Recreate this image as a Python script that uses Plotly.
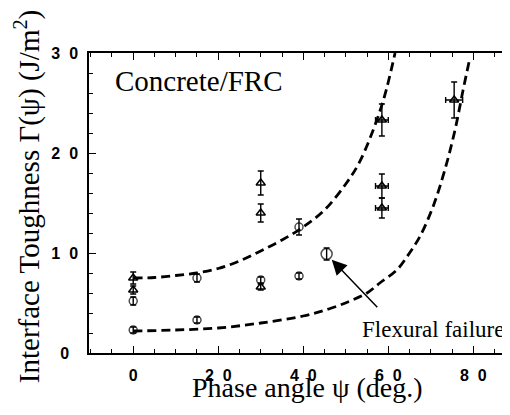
import plotly.graph_objects as go

# ---- data ----
circ_x = [0, 0, 15, 15, 30, 39, 39, 45.5]
circ_y = [5.2, 2.3, 7.5, 3.3, 7.3, 12.6, 7.7, 9.9]
circ_err = [0.4, 0.3, 0.4, 0.3, 0.3, 0.8, 0.3, 0.6]
circ_size = [8, 8, 8, 8, 8, 8, 8, 11]

tri_x = [0, 0, 30, 30, 30]
tri_y = [7.5, 6.3, 17.0, 14.0, 6.6]
tri_err = [0.6, 0.4, 1.2, 0.9, 0.3]

tri2_x = [58.5, 58.5, 58.5, 75.5]
tri2_y = [23.3, 16.7, 14.5, 25.3]
tri2_err = [1.6, 1.2, 1.0, 1.8]
tri2_xerr = [1.5, 1.5, 1.5, 2.0]

upper_x = [0, 5, 10, 15, 20, 25, 30, 35, 40, 45, 50, 53, 56, 59, 61.6]
upper_y = [7.5, 7.55, 7.75, 8.0, 8.45, 9.2, 10.2, 11.3, 12.6, 14.3, 16.9, 18.9, 21.8, 25.5, 30.0]

lower_x = [0, 10, 20, 30, 40, 46, 51, 55, 58, 62, 65, 67.5, 70.5, 73.3, 75.7, 77.6, 79.2]
lower_y = [2.2, 2.3, 2.5, 3.0, 3.7, 4.4, 5.2, 6.0, 7.0, 8.3, 10.0, 11.7, 14.6, 18.3, 22.3, 26.3, 29.5]

x_tickvals = [0, 20, 40, 60, 80]
x_ticktext = ["0", "2\u00a0\u00a00", "4\u00a0\u00a00", "6\u00a0\u00a00", "8\u00a0\u00a00"]
y_tickvals = [0, 10, 20, 30]
y_ticktext = ["0\u00a0\u00a0", "1\u00a0\u00a00", "2\u00a0\u00a00", "3\u00a0\u00a00"]

SERIF = "Liberation Serif, Times New Roman, serif"
SANS = "Liberation Sans, Arial, sans-serif"

fig = go.Figure()

dash = "9px,5px"
fig.add_trace(go.Scatter(x=upper_x, y=upper_y, mode="lines",
                         line=dict(color="black", width=2.8, dash=dash, shape="spline"),
                         showlegend=False, hoverinfo="skip"))
fig.add_trace(go.Scatter(x=lower_x, y=lower_y, mode="lines",
                         line=dict(color="black", width=2.8, dash=dash, shape="spline"),
                         showlegend=False, hoverinfo="skip"))

eb = dict(type="data", color="black", thickness=1.4, width=3)

fig.add_trace(go.Scatter(x=circ_x, y=circ_y, mode="markers",
                         marker=dict(symbol="circle-open", size=circ_size, color="black",
                                     line=dict(width=1.5, color="black")),
                         error_y=dict(array=circ_err, **eb),
                         showlegend=False))
fig.add_trace(go.Scatter(x=tri_x, y=tri_y, mode="markers",
                         marker=dict(symbol="triangle-up-open", size=8, color="black",
                                     line=dict(width=1.5, color="black")),
                         error_y=dict(array=tri_err, **eb),
                         showlegend=False))
fig.add_trace(go.Scatter(x=tri2_x, y=tri2_y, mode="markers",
                         marker=dict(symbol="triangle-up-open", size=8, color="black",
                                     line=dict(width=1.5, color="black")),
                         error_y=dict(array=tri2_err, **eb),
                         error_x=dict(array=tri2_xerr, **eb),
                         showlegend=False))

axis_common = dict(showline=True, linecolor="black", linewidth=1.5, mirror="ticks",
                   ticks="inside", tickcolor="black", tickwidth=1.3, ticklen=7,
                   showgrid=False, zeroline=False, automargin=False,
                   tickfont=dict(family=SANS, size=16, color="black", weight="bold"))

fig.update_xaxes(range=[-10.4, 88.4], tickmode="array", tickvals=x_tickvals,
                 ticktext=x_ticktext, ticklabelstandoff=7,
                 minor=dict(dtick=5, tick0=0, ticks="inside", ticklen=4,
                            tickcolor="black", tickwidth=1.2, showgrid=False),
                 **axis_common)
fig.update_yaxes(range=[0, 30], tickmode="array", tickvals=y_tickvals,
                 ticktext=y_ticktext, ticklabelstandoff=6,
                 minor=dict(dtick=2, tick0=0, ticks="inside", ticklen=4,
                            tickcolor="black", tickwidth=1.2, showgrid=False),
                 **axis_common)

fig.add_annotation(x=-4.8, y=27.2, xref="x", yref="y", text="Concrete/FRC",
                   showarrow=False, xanchor="left", yanchor="middle",
                   font=dict(family=SERIF, size=29, color="black"))
fig.add_annotation(x=87.6, y=2.4, xref="x", yref="y", text="Flexural failure",
                   showarrow=False, xanchor="right", yanchor="middle",
                   font=dict(family=SERIF, size=23, color="black"))
fig.add_annotation(x=46.7, y=9.33, xref="x", yref="y", text="",
                   showarrow=True, arrowhead=2, arrowsize=2, arrowwidth=1.5,
                   arrowcolor="black", ax=47, ay=49, standoff=0)

fig.add_annotation(x=(27 - 89) / 420, y=(353.3 - 197.5) / 300, xref="paper", yref="paper",
                   text="Interface Toughness \u0393(\u03c8) (J/m<sup>2</sup>)",
                   textangle=-90, showarrow=False, xanchor="center", yanchor="middle",
                   font=dict(family=SERIF, size=29, color="black"))
fig.add_annotation(x=(307.5 - 89) / 420, y=(353.3 - 388) / 300, xref="paper", yref="paper",
                   text="Phase angle \u03c8 (deg.)",
                   showarrow=False, xanchor="center", yanchor="middle",
                   font=dict(family=SERIF, size=28, color="black"))

# page body has an 8px margin, so the figure is 8px smaller and margins shifted
fig.update_layout(width=502, height=407, margin=dict(l=81, r=1, t=45, b=62),
                  plot_bgcolor="white", paper_bgcolor="white", showlegend=False)

fig.write_html("out.html")
